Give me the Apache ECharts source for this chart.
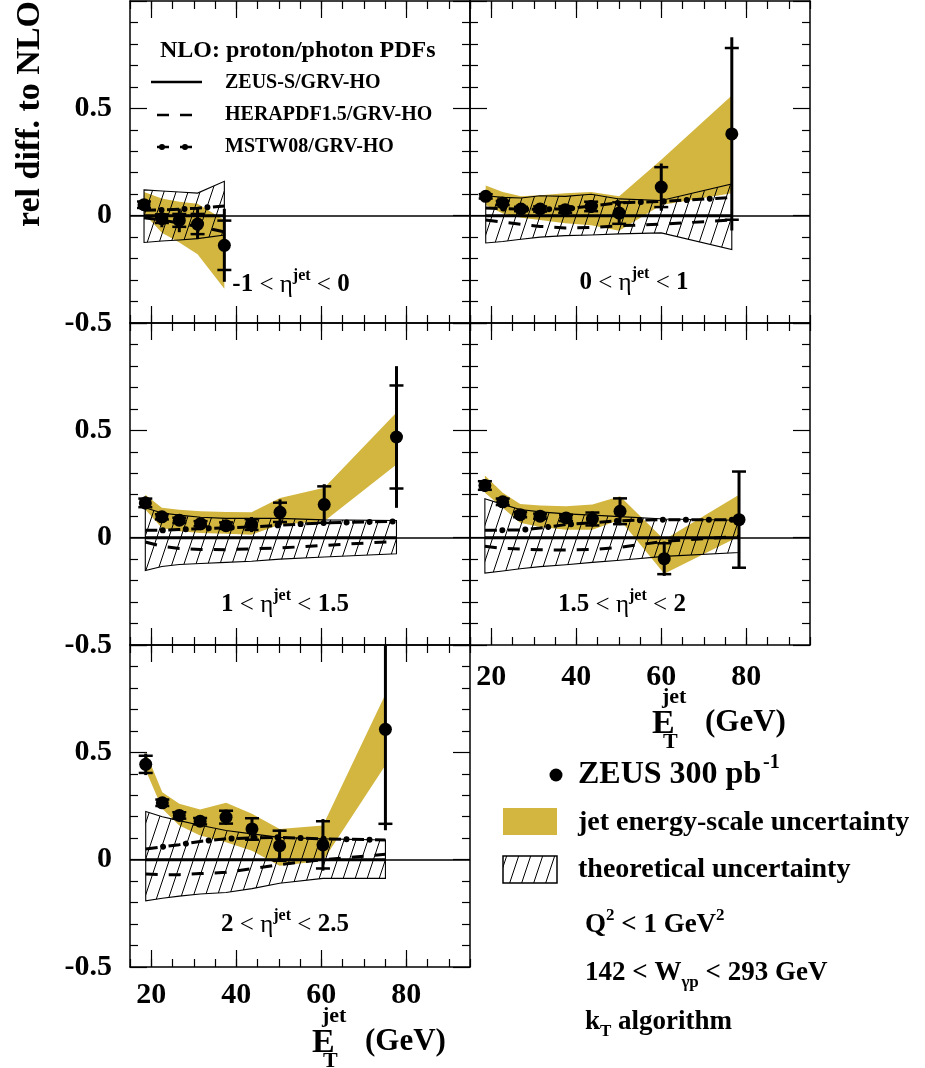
<!DOCTYPE html>
<html><head><meta charset="utf-8">
<script src="https://cdn.jsdelivr.net/npm/echarts@6/dist/echarts.min.js"></script>
<style>html,body{margin:0;padding:0;background:#fff}#c{width:925px;height:1068px}</style>
</head><body><div id="c"></div>
<script>
// ---------------- DATA ----------------
// x tick labels
const xTickLabels = [20, 40, 60, 80];
const yTickLabels = [-0.5, 0, 0.5];

// Panel A: -1 < eta < 0
const xA = [18.3, 22.5, 26.6, 30.9, 37.2];
const yA = [0.051, -0.014, -0.022, -0.039, -0.138];
const statA = [0.015, 0.02, 0.03, 0.047, 0.115];
const totA = [0.02, 0.04, 0.055, 0.07, 0.17];
const jesLoA = [0.01, -0.08, -0.125, -0.18, -0.34];
const jesHiA = [0.11, 0.08, 0.065, 0.055, -0.02];
const thLoA = [-0.125, -0.118, -0.113, -0.107, -0.09];
const thHiA = [0.12, 0.115, 0.11, 0.105, 0.16];
const heraA = [-0.01, -0.02, -0.035, -0.05, -0.075];
const mstwA = [0.025, 0.027, 0.03, 0.035, 0.045];
const zeusA = [0, 0, 0, 0, 0];

// Panel B: 0 < eta < 1
const xB = [18.7, 22.7, 27.0, 31.5, 37.4, 43.5, 50.1, 60.0, 76.6];
const yB = [0.09, 0.059, 0.031, 0.031, 0.028, 0.043, 0.012, 0.133, 0.381];
const statB = [0.01, 0.01, 0.01, 0.012, 0.015, 0.022, 0.05, 0.093, 0.40];
const totB = [0.015, 0.015, 0.015, 0.018, 0.022, 0.03, 0.055, 0.11, 0.45];
const jesLoB = [0.05, 0.01, -0.01, -0.02, -0.035, -0.045, -0.07, 0.05, 0.105];
const jesHiB = [0.14, 0.11, 0.09, 0.095, 0.105, 0.11, 0.09, 0.26, 0.56];
const thLoB = [-0.127, -0.12, -0.11, -0.1, -0.093, -0.09, -0.085, -0.08, -0.158];
const thHiB = [0.093, 0.085, 0.082, 0.093, 0.09, 0.1, 0.078, 0.071, 0.148];
const heraB = [-0.02, -0.03, -0.04, -0.05, -0.057, -0.055, -0.047, -0.04, -0.02];
const mstwB = [0.036, 0.033, 0.03, 0.03, 0.031, 0.045, 0.06, 0.066, 0.085];
const zeusB = [0, 0, 0, 0, 0, 0, 0, 0, 0];

// Panel C: 1 < eta < 1.5
const xC = [18.6, 22.5, 26.6, 31.6, 37.6, 43.6, 50.3, 60.7, 77.7];
const yC = [0.162, 0.097, 0.081, 0.065, 0.056, 0.061, 0.118, 0.154, 0.469];
const statC = [0.02, 0.012, 0.012, 0.012, 0.015, 0.025, 0.045, 0.085, 0.24];
const totC = [0.03, 0.018, 0.018, 0.018, 0.022, 0.035, 0.06, 0.095, 0.33];
const jesLoC = [0.131, 0.045, 0.03, 0.022, 0.018, 0.014, 0.061, 0.076, 0.341];
const jesHiC = [0.2, 0.139, 0.13, 0.123, 0.12, 0.118, 0.185, 0.232, 0.583];
const thLoC = [-0.153, -0.134, -0.125, -0.12, -0.115, -0.11, -0.1, -0.09, -0.075];
const thHiC = [0.139, 0.115, 0.105, 0.095, 0.09, 0.09, 0.09, 0.083, 0.08];
const heraC = [-0.02, -0.04, -0.05, -0.055, -0.056, -0.052, -0.048, -0.036, -0.017];
const mstwC = [0.034, 0.034, 0.038, 0.042, 0.046, 0.05, 0.058, 0.069, 0.076];
const zeusC = [0, 0, 0, 0, 0, 0, 0, 0, 0];

// Panel D: 1.5 < eta < 2
const xD = [18.5, 22.7, 26.8, 31.5, 37.6, 43.8, 50.3, 60.7, 78.3];
const yD = [0.243, 0.167, 0.107, 0.1, 0.092, 0.087, 0.123, -0.098, 0.084];
const statD = [0.02, 0.015, 0.012, 0.012, 0.015, 0.03, 0.06, 0.072, 0.224];
const totD = [0.03, 0.02, 0.018, 0.018, 0.022, 0.035, 0.065, 0.08, 0.224];
const jesLoD = [0.209, 0.139, 0.069, 0.05, 0.037, 0.037, 0.084, -0.168, 0.006];
const jesHiD = [0.29, 0.209, 0.157, 0.15, 0.146, 0.154, 0.193, -0.01, 0.2];
const thLoD = [-0.165, -0.155, -0.145, -0.135, -0.126, -0.115, -0.105, -0.087, -0.069];
const thHiD = [0.181, 0.155, 0.131, 0.12, 0.111, 0.105, 0.098, 0.087, 0.081];
const heraD = [-0.04, -0.05, -0.053, -0.056, -0.058, -0.055, -0.045, -0.017, 0.006];
const mstwD = [0.034, 0.035, 0.036, 0.045, 0.061, 0.07, 0.079, 0.084, 0.084];
const zeusD = [0, 0, 0, 0, 0, 0, 0, 0, 0];

// Panel E: 2 < eta < 2.5
const xE = [18.7, 22.6, 26.6, 31.5, 37.6, 43.7, 50.2, 60.4, 75.1];
const yE = [0.444, 0.265, 0.206, 0.179, 0.198, 0.143, 0.065, 0.069, 0.607];
const statE = [0.04, 0.015, 0.015, 0.015, 0.03, 0.05, 0.07, 0.11, 0.44];
const totE = [0.05, 0.02, 0.02, 0.02, 0.035, 0.055, 0.075, 0.12, 0.47];
const jesLoE = [0.416, 0.237, 0.159, 0.112, 0.081, 0.042, -0.028, -0.005, 0.44];
const jesHiE = [0.501, 0.314, 0.26, 0.234, 0.265, 0.214, 0.143, 0.159, 0.77];
const thLoE = [-0.192, -0.18, -0.17, -0.16, -0.153, -0.135, -0.11, -0.087, -0.087];
const thHiE = [0.224, 0.2, 0.182, 0.16, 0.136, 0.12, 0.104, 0.097, 0.092];
const heraE = [-0.067, -0.07, -0.07, -0.065, -0.059, -0.042, -0.023, 0.0, 0.025];
const mstwE = [0.05, 0.06, 0.07, 0.085, 0.097, 0.102, 0.104, 0.097, 0.092];
const zeusE = [0, 0, 0, 0, 0, 0, 0, 0, 0];

// ---------------- STYLE / LAYOUT ----------------
const F = '"Liberation Serif","Times New Roman",serif';
const YEL = '#d2b640';
const panels = [
  {x:xA,y:yA,stat:statA,tot:totA,jl:jesLoA,jh:jesHiA,tl:thLoA,th:thHiA,hera:heraA,mstw:mstwA,zeus:zeusA},
  {x:xB,y:yB,stat:statB,tot:totB,jl:jesLoB,jh:jesHiB,tl:thLoB,th:thHiB,hera:heraB,mstw:mstwB,zeus:zeusB},
  {x:xC,y:yC,stat:statC,tot:totC,jl:jesLoC,jh:jesHiC,tl:thLoC,th:thHiC,hera:heraC,mstw:mstwC,zeus:zeusC},
  {x:xD,y:yD,stat:statD,tot:totD,jl:jesLoD,jh:jesHiD,tl:thLoD,th:thHiD,hera:heraD,mstw:mstwD,zeus:zeusD},
  {x:xE,y:yE,stat:statE,tot:totE,jl:jesLoE,jh:jesHiE,tl:thLoE,th:thHiE,hera:heraE,mstw:mstwE,zeus:zeusE}
];
const gridPos = [[130,1],[470,1],[130,323],[470,323],[130,645]];
const showXLab = [false,false,false,true,true];
const xLabMargin = [13,13,13,17,13];
const showYLab = [true,false,true,false,true];

// hatch pattern
const pat = document.createElement('canvas');
pat.width = 12; pat.height = 36;
(function(){
  const c = pat.getContext('2d');
  c.strokeStyle = '#000'; c.lineWidth = 1;
  for (let k = -1; k <= 1; k++) { c.beginPath(); c.moveTo(k*12, 36); c.lineTo(k*12+12, 0); c.stroke(); }
})();
const hatchFill = {image: pat, repeat: 'repeat'};

const tickStyle = {color:'#000', width:1.2};
const lineSt = {color:'#000', width:1.5};
const xAxis = [], yAxis = [], grid = [], series = [];

gridPos.forEach((p, g) => {
  grid.push({left:p[0], top:p[1], width:340, height:322, containLabel:false});
  const base = {gridIndex:g, type:'value', min:15, max:95, splitLine:{show:false}};
  xAxis.push(Object.assign({}, base, {position:'bottom', interval:5,
    axisLine:{show:true,onZero:false,lineStyle:lineSt},
    axisTick:{show:true,inside:true,length:8,lineStyle:tickStyle},
    axisLabel:{show:showXLab[g], margin:xLabMargin[g], color:'#000', fontFamily:F, fontSize:30, fontWeight:'bold',
      formatter: v => xTickLabels.indexOf(v) >= 0 ? String(v) : ''}}));
  xAxis.push(Object.assign({}, base, {position:'bottom',
    axisLine:{show:false,onZero:false}, axisTick:{show:true,inside:true,length:17,customValues:xTickLabels,lineStyle:tickStyle},
    axisLabel:{show:false}}));
  xAxis.push(Object.assign({}, base, {position:'top', interval:5,
    axisLine:{show:true,onZero:false,lineStyle:lineSt},
    axisTick:{show:true,inside:true,length:8,lineStyle:tickStyle}, axisLabel:{show:false}}));
  xAxis.push(Object.assign({}, base, {position:'top',
    axisLine:{show:false,onZero:false}, axisTick:{show:true,inside:true,length:17,customValues:xTickLabels,lineStyle:tickStyle},
    axisLabel:{show:false}}));
  const yc = {gridIndex:g, type:'value', min:-0.5, max:1.0, interval:0.5, splitLine:{show:false},
    axisLine:{show:true,onZero:false,lineStyle:lineSt},
    axisTick:{show:true,inside:true,length:17,lineStyle:tickStyle},
    minorTick:{show:true,splitNumber:5,length:8,lineStyle:tickStyle}};
  yAxis.push(Object.assign({}, yc, {position:'left',
    axisLabel:{show:showYLab[g], margin:18, color:'#000', fontFamily:F, fontSize:30, fontWeight:'bold',
      formatter: v => { for (const t of yTickLabels) if (Math.abs(v-t)<1e-9) return String(t); return ''; }}}));
  yAxis.push(Object.assign({}, yc, {position:'right', axisLabel:{show:false}}));

  const P = panels[g];
  const xi = 4*g, yi = 2*g;
  const band = (lo, hi, style, z) => ({type:'custom', xAxisIndex:xi, yAxisIndex:yi, z, silent:true,
    data: P.x.map((x,i)=>[x, lo[i], hi[i]]), encode:{x:0, y:[1,2]},
    renderItem(params, api) {
      if (params.dataIndex !== 0) return null;
      const pts = [];
      for (let i=0;i<P.x.length;i++) pts.push(api.coord([P.x[i], hi[i]]));
      for (let i=P.x.length-1;i>=0;i--) pts.push(api.coord([P.x[i], lo[i]]));
      return {type:'polygon', shape:{points:pts}, style};
    }});
  series.push(band(P.jl, P.jh, {fill:YEL, stroke:null}, 1));
  series.push(band(P.tl, P.th, {fill:hatchFill, stroke:'#000', lineWidth:1.1}, 2));
  // ZEUS-S (reference) + zero line
  series.push({type:'line', xAxisIndex:xi, yAxisIndex:yi, z:3, silent:true, symbol:'none',
    data:P.x.map((x,i)=>[x,P.zeus[i]]), lineStyle:{color:'#000', width:3},
    markLine:{silent:true, symbol:'none', label:{show:false}, lineStyle:{color:'#000', width:1.5, type:'solid'}, data:[{yAxis:0}]}});
  // HERAPDF dashed
  series.push({type:'line', xAxisIndex:xi, yAxisIndex:yi, z:3, silent:true, symbol:'none',
    data:P.x.map((x,i)=>[x,P.hera[i]]), lineStyle:{color:'#000', width:3, type:[12,11]}});
  // MSTW dash-dot: dashes + dots
  series.push({type:'line', xAxisIndex:xi, yAxisIndex:yi, z:3, silent:true, symbol:'none',
    data:P.x.map((x,i)=>[x,P.mstw[i]]), lineStyle:{color:'#000', width:3, type:[12,11]}});
  series.push({type:'line', xAxisIndex:xi, yAxisIndex:yi, z:3, silent:true, symbol:'none',
    data:P.x.map((x,i)=>[x,P.mstw[i]]), lineStyle:{color:'#000', width:6, type:[0.01,22.99], dashOffset:5.5, cap:'round'}});
  // error bars
  series.push({type:'custom', xAxisIndex:xi, yAxisIndex:yi, z:4, silent:true,
    data:P.x.map((x,i)=>[x, P.y[i], P.stat[i], P.tot[i]]), encode:{x:0, y:1},
    renderItem(params, api) {
      const x = api.value(0), y = api.value(1), s = api.value(2), t = api.value(3);
      const cs = params.coordSys;
      const cl = v => Math.max(cs.y, Math.min(cs.y + cs.height, v));
      const cx = api.coord([x, y])[0];
      const top = cl(api.coord([x, y + t])[1]), bot = cl(api.coord([x, y - t])[1]);
      const ch = [{type:'line', shape:{x1:cx, y1:top, x2:cx, y2:bot}, style:{stroke:'#000', lineWidth:3}}];
      [api.coord([x, y + s])[1], api.coord([x, y - s])[1]].forEach(v => {
        if (v >= cs.y && v <= cs.y + cs.height)
          ch.push({type:'line', shape:{x1:cx-7, y1:v, x2:cx+7, y2:v}, style:{stroke:'#000', lineWidth:2.5}});
      });
      return {type:'group', children:ch};
    }});
  // data points
  series.push({type:'scatter', xAxisIndex:xi, yAxisIndex:yi, z:5, silent:true, symbol:'circle', symbolSize:13,
    itemStyle:{color:'#000', opacity:1}, emphasis:{disabled:true}, data:P.x.map((x,i)=>[x,P.y[i]])});
});

// ---------------- TEXT / LEGENDS ----------------
const T = (x, y, text, size, extra) => ({type:'text', x, y, z:100, silent:true,
  style:Object.assign({text, fontFamily:F, fontSize:size, fontWeight:'bold', fill:'#000', align:'left', verticalAlign:'middle'}, extra||{})});
const etaRich = {
  b:{fontFamily:F, fontSize:25, fontWeight:'bold', lineHeight:34},
  s:{fontFamily:F, fontSize:25, fontWeight:'normal', lineHeight:34},
  sup:{fontFamily:F, fontSize:16, fontWeight:'bold', lineHeight:18, verticalAlign:'top'}
};
const etaLab = (x, y, a, b) => ({type:'text', x, y, z:100, silent:true,
  style:{text:'{b|'+a+'}{s| < η}{sup|jet}{s| < }{b|'+b+'}', rich:etaRich, align:'center', verticalAlign:'middle', fill:'#000'}});

const graphic = [
  // y axis title
  {type:'text', x:30, y:114, rotation:Math.PI/2, z:100, silent:true,
   style:{text:'rel diff. to NLO', fontFamily:F, fontSize:34, fontWeight:'bold', fill:'#000', align:'center', verticalAlign:'middle'}},
  // panel 1 legend
  T(160, 51, 'NLO: proton/photon PDFs', 24),
  T(225, 83, 'ZEUS-S/GRV-HO', 20),
  T(225, 115, 'HERAPDF1.5/GRV-HO', 20),
  T(225, 147, 'MSTW08/GRV-HO', 20),
  {type:'line', z:100, silent:true, shape:{x1:151,y1:82,x2:202,y2:82}, style:{stroke:'#000', lineWidth:2.5}},
  {type:'line', z:100, silent:true, shape:{x1:151,y1:115,x2:202,y2:115}, style:{stroke:'#000', lineWidth:2.5, lineDash:[12,11], lineDashOffset:17}},
  {type:'line', z:100, silent:true, shape:{x1:151,y1:147,x2:202,y2:147}, style:{stroke:'#000', lineWidth:2.5, lineDash:[12,11], lineDashOffset:17}},
  {type:'line', z:100, silent:true, shape:{x1:151,y1:147,x2:202,y2:147}, style:{stroke:'#000', lineWidth:6, lineCap:'round', lineDash:[0.01,22.99], lineDashOffset:-11}},
  // eta labels
  etaLab(291, 285, '-1', '0'),
  etaLab(634, 283, '0', '1'),
  etaLab(285, 605, '1', '1.5'),
  etaLab(622, 605, '1.5', '2'),
  etaLab(285, 925, '2', '2.5'),
  // x axis titles
  T(312, 1043, 'E', 34), T(322, 1016, 'jet', 22), T(323, 1061, 'T', 22), T(365, 1042, '(GeV)', 31),
  T(652, 724, 'E', 34), T(662, 697, 'jet', 22), T(663, 742, 'T', 22), T(705, 723, '(GeV)', 31),
  // right legend
  {type:'circle', z:100, silent:true, shape:{cx:556, cy:775, r:6.5}, style:{fill:'#000'}},
  T(578, 775, 'ZEUS 300 pb', 32), T(763, 763, '-1', 20),
  {type:'rect', z:100, silent:true, shape:{x:503, y:808, width:54, height:27}, style:{fill:YEL}},
  T(578, 823, 'jet energy-scale uncertainty', 28),
  {type:'rect', z:100, silent:true, shape:{x:503, y:856, width:54, height:27}, style:{fill:hatchFill, stroke:'#000', lineWidth:1.5}},
  T(578, 870, 'theoretical uncertainty', 28),
  {type:'text', x:585, y:925, z:100, silent:true, style:{text:'{m|Q}{p|2}{m| < 1 GeV}{p|2}', align:'left', verticalAlign:'middle', fill:'#000',
    rich:{m:{fontFamily:F, fontSize:27, fontWeight:'bold', lineHeight:36}, p:{fontFamily:F, fontSize:17, fontWeight:'bold', lineHeight:18, verticalAlign:'top'}}}},
  {type:'text', x:585, y:973, z:100, silent:true, style:{text:'{m|142 < W}{q|γp}{m| < 293 GeV}', align:'left', verticalAlign:'middle', fill:'#000',
    rich:{m:{fontFamily:F, fontSize:27, fontWeight:'bold', lineHeight:36}, q:{fontFamily:F, fontSize:17, fontWeight:'bold', lineHeight:18, verticalAlign:'bottom'}}}},
  {type:'text', x:585, y:1022, z:100, silent:true, style:{text:'{m|k}{q|T}{m| algorithm}', align:'left', verticalAlign:'middle', fill:'#000',
    rich:{m:{fontFamily:F, fontSize:27, fontWeight:'bold', lineHeight:36}, q:{fontFamily:F, fontSize:17, fontWeight:'bold', lineHeight:18, verticalAlign:'bottom'}}}}
];

const chart = echarts.init(document.getElementById('c'));
chart.setOption({animation:false, backgroundColor:'#fff', grid, xAxis, yAxis, series, graphic});
</script></body></html>
